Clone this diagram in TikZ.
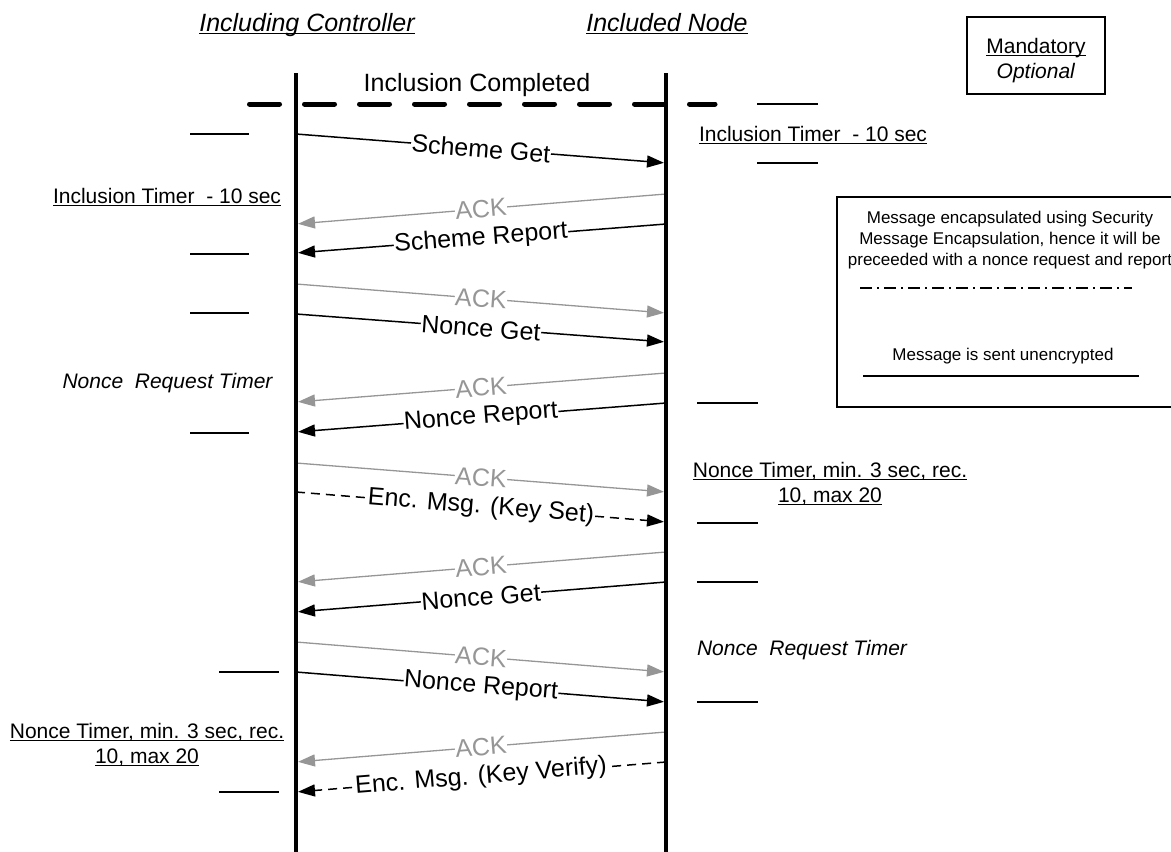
\documentclass[tikz,border=0pt]{standalone}
\usepackage{fontspec}
\setmainfont{Liberation Sans}
\usetikzlibrary{arrows.meta}
\definecolor{ackgray}{RGB}{150,150,150}
\newcommand{\undl}[1]{\setbox0\hbox{#1}\rlap{\rule[-3pt]{\wd0}{1.3pt}}\box0}

\begin{document}
\begin{tikzpicture}[x=1pt,y=-1pt,
		msg/.style={line width=1.5pt,-{Triangle[length=17pt,width=12pt]},shorten >=2pt},
		ack/.style={msg,draw=ackgray,line width=1.3pt},
		enc/.style={msg,dash pattern=on 9pt off 6pt},
		lbl/.style={fill=white,inner sep=0.5pt,sloped,font=\fontsize{25}{30}\selectfont},
		acklbl/.style={lbl,text=ackgray},
		head/.style={anchor=base,inner sep=0pt,font=\fontsize{25}{30}\selectfont\itshape},
		timer/.style={anchor=base,inner sep=0pt,align=center,font=\fontsize{21}{25}\selectfont},
		legend/.style={anchor=base,inner sep=0pt,align=center,font=\fontsize{17}{21}\selectfont},
		tick/.style={line width=1.3pt}]
	\useasboundingbox (0,0) rectangle (1171,852);

	\node[head] (ctrl) at (307,31) {\undl{Including Controller}};
	\node[head] (incl) at (667,31) {\undl{Included Node}};

	\coordinate (ctrl top) at (296,73); \coordinate (ctrl bot) at (296,856);
	\coordinate (incl top) at (666,73); \coordinate (incl bot) at (666,856);

	\node[anchor=base,inner sep=0pt,font=\fontsize{25}{30}\selectfont] (done) at (477,91) {Inclusion Completed};
	\draw[line width=5pt,line cap=round,dash pattern=on 30pt off 25pt] (249.5,104) -- (715,104);

	\coordinate (c1) at (296,134);  \coordinate (n1) at (666,163);
	\coordinate (c2) at (296,224);  \coordinate (n2) at (666,194);
	\coordinate (c3) at (296,253);  \coordinate (n3) at (666,224);
	\coordinate (c4) at (296,284);  \coordinate (n4) at (666,313);
	\coordinate (c5) at (296,314);  \coordinate (n5) at (666,342);
	\coordinate (c6) at (296,402);  \coordinate (n6) at (666,373);
	\coordinate (c7) at (296,432);  \coordinate (n7) at (666,403);
	\coordinate (c8) at (296,463);  \coordinate (n8) at (666,492);
	\coordinate (c9) at (296,492);  \coordinate (n9) at (666,522);
	\coordinate (c10) at (296,582); \coordinate (n10) at (666,552);
	\coordinate (c11) at (296,612); \coordinate (n11) at (666,582);
	\coordinate (c12) at (296,642); \coordinate (n12) at (666,672);
	\coordinate (c13) at (296,672); \coordinate (n13) at (666,702);
	\coordinate (c14) at (296,762); \coordinate (n14) at (666,732);
	\coordinate (c15) at (296,792); \coordinate (n15) at (666,762);

	\draw[msg] (c1) to node[lbl] {Scheme Get} (n1);
	\draw[ack] (n2) to node[acklbl] {ACK} (c2);
	\draw[msg] (n3) to node[lbl] {Scheme Report} (c3);
	\draw[ack] (c4) to node[acklbl] {ACK} (n4);
	\draw[msg] (c5) to node[lbl] {Nonce Get} (n5);
	\draw[ack] (n6) to node[acklbl] {ACK} (c6);
	\draw[msg] (n7) to node[lbl] {Nonce Report} (c7);
	\draw[ack] (c8) to node[acklbl] {ACK} (n8);
	\draw[enc] (c9) to node[lbl] {Enc. Msg. (Key Set)} (n9);
	\draw[ack] (n10) to node[acklbl] {ACK} (c10);
	\draw[msg] (n11) to node[lbl] {Nonce Get} (c11);
	\draw[ack] (c12) to node[acklbl] {ACK} (n12);
	\draw[msg] (c13) to node[lbl] {Nonce Report} (n13);
	\draw[ack] (n14) to node[acklbl] {ACK} (c14);
	\draw[enc] (n15) to node[lbl] {Enc. Msg. (Key Verify)} (c15);

	\draw[line width=4pt] (ctrl top) -- (ctrl bot);
	\draw[line width=4pt] (incl top) -- (incl bot);

	\draw[tick] (190,134) -- (249,134);
	\node[timer] (t1) at (167,203) {\undl{Inclusion Timer\ \ - 10 sec}};
	\draw[tick] (190,254) -- (249,254);
	\draw[tick] (190,313) -- (249,313);
	\node[timer] (t2) at (167.5,388) {\itshape Nonce\ \ Request Timer};
	\draw[tick] (190,433) -- (249,433);
	\draw[tick] (219,672) -- (279,672);
	\node[timer] (t3) at (147,763) {\undl{Nonce Timer, min. 3 sec, rec.}\\\undl{10, max 20}};
	\draw[tick] (219,792) -- (279,792);

	\draw[tick] (757,104) -- (818,104);
	\node[timer] (t4) at (813,141) {\undl{Inclusion Timer\ \ - 10 sec}};
	\draw[tick] (757,163) -- (818,163);
	\draw[tick] (697,403) -- (758,403);
	\node[timer] (t5) at (830,502) {\undl{Nonce Timer, min. 3 sec, rec.}\\\undl{10, max 20}};
	\draw[tick] (697,523) -- (758,523);
	\draw[tick] (697,582) -- (758,582);
	\node[timer] (t6) at (802,655) {\itshape Nonce\ \ Request Timer};
	\draw[tick] (697,702) -- (758,702);

	\node[draw,line width=1.5pt,minimum width=138pt,minimum height=77pt] (key) at (1036,55.5) {};
	\node[timer] (key text) at (1036,78) {\undl{Mandatory}\\\textit{Optional}};

	\node[draw,line width=1.5pt,anchor=north west,minimum width=365pt,minimum height=210pt] (box) at (836,196) {};
	\node[legend] (enc text) at (1010,265) {Message encapsulated using Security\\Message Encapsulation, hence it will be\\preceeded with a nonce request and report};
	\draw[tick,dash pattern=on 12pt off 5pt on 2pt off 5pt] (860,288) -- (1132,288);
	\node[legend] (plain text) at (1003,360) {Message is sent unencrypted};
	\draw[tick] (863,376) -- (1139,376);
\end{tikzpicture}
\end{document}
